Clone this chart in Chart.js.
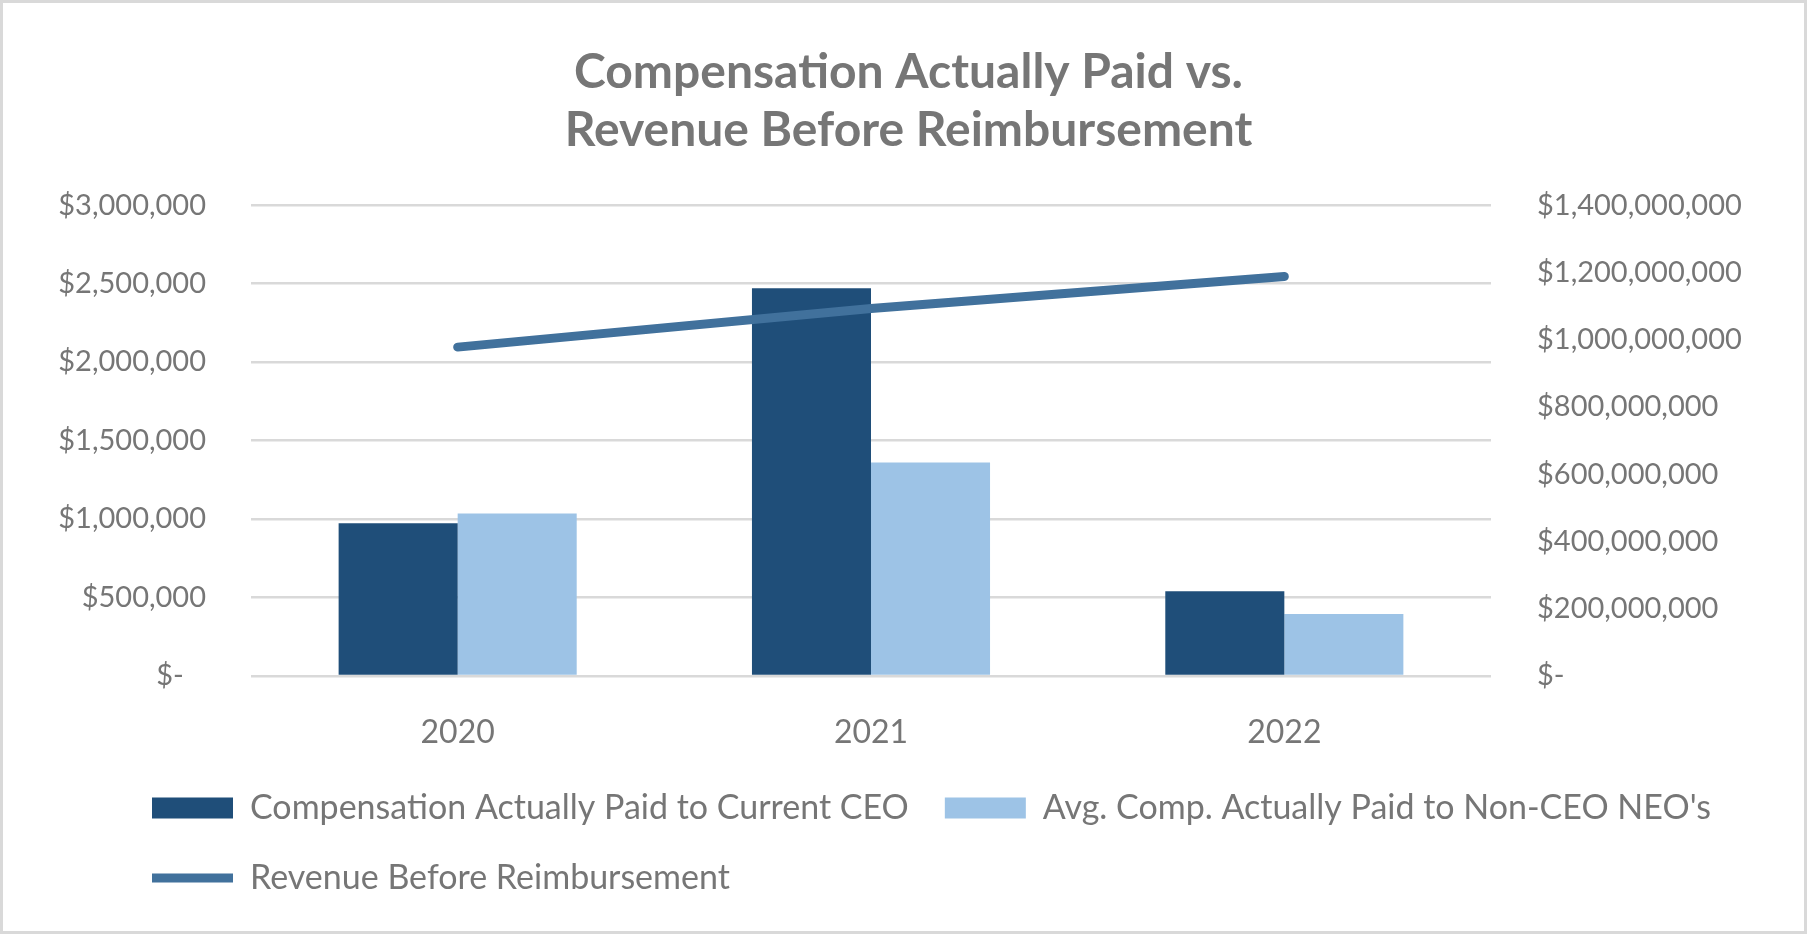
<!DOCTYPE html>
<html>
<head>
<meta charset="utf-8">
<title>Compensation Actually Paid vs. Revenue Before Reimbursement</title>
<script src="https://cdn.jsdelivr.net/npm/chart.js@4.4.1/dist/chart.umd.min.js"></script>
<style>
  html, body { margin: 0; padding: 0; background: #fff; }
  canvas { display: block; }
</style>
</head>
<body>
<canvas id="capChart" width="1807" height="934"></canvas>
<script>
// данные
const years = ['2020', '2021', '2022'];
const ceoPaid = [973000, 2470000, 540000];
const neoPaid = [1035000, 1360000, 395000];
const revenue = [978000000, 1093000000, 1188000000];
const seriesNames = [
  'Compensation Actually Paid to Current CEO',
  "Avg. Comp. Actually Paid to Non-CEO NEO's",
  'Revenue Before Reimbursement'
];
const titleLines = ['Compensation Actually Paid vs.', 'Revenue Before Reimbursement'];

const grey = '#767676';
const family = 'Lato, "Open Sans", sans-serif';

function money(v) {
  if (v === 0) return '$-';
  return '$' + v.toLocaleString('en-US');
}

// рамка вокруг картинки
const frame = {
  id: 'frame',
  beforeDraw(chart) {
    const {ctx, width, height} = chart;
    ctx.save();
    ctx.fillStyle = '#fff';
    ctx.fillRect(0, 0, width, height);
    ctx.strokeStyle = '#d9d9d9';
    ctx.lineWidth = 3;
    ctx.strokeRect(1.5, 1.5, width - 3, height - 3);
    ctx.restore();
  }
};

// легенда начинается левее графика, сдвигаем её вручную
const legendShift = {
  id: 'legendShift',
  afterLayout(chart) {
    chart.legend.left = 116;
  }
};

const ctx = document.getElementById('capChart');
const capChart = new Chart(ctx, {
  type: 'bar',
  data: {
    labels: years,
    datasets: [{
      label: seriesNames[0],
      data: ceoPaid,
      backgroundColor: '#1f4e79',
      borderWidth: 0,
      pointStyle: 'rect',
      yAxisID: 'y',
      order: 1,
      barPercentage: 1,
      categoryPercentage: 0.576
    }, {
      label: seriesNames[1],
      data: neoPaid,
      backgroundColor: '#9dc3e6',
      borderWidth: 0,
      pointStyle: 'rect',
      yAxisID: 'y',
      order: 1,
      barPercentage: 1,
      categoryPercentage: 0.576
    }, {
      type: 'line',
      label: seriesNames[2],
      data: revenue,
      borderColor: '#41719c',
      backgroundColor: '#41719c',
      borderWidth: 9,
      borderCapStyle: 'round',
      pointStyle: 'line',
      pointRadius: 0,
      pointHoverRadius: 0,
      tension: 0,
      fill: false,
      yAxisID: 'y1',
      order: 0
    }]
  },
  options: {
    responsive: false,
    animation: false,
    devicePixelRatio: 1,
    layout: {
      padding: { left: 20, right: 10, top: 0, bottom: 29 }
    },
    plugins: {
      title: {
        display: true,
        text: titleLines,
        color: grey,
        font: { family: family, size: 48, weight: 'bold', lineHeight: 1.2 },
        padding: { top: 44, bottom: 46 }
      },
      legend: {
        position: 'bottom',
        align: 'start',
        labels: {
          usePointStyle: true,
          pointStyleWidth: 81,
          boxHeight: 21,
          padding: 36,
          color: grey,
          font: { family: family, size: 34 },
          sort: (a, b) => a.datasetIndex - b.datasetIndex
        }
      },
      tooltip: { enabled: false }
    },
    scales: {
      x: {
        grid: { display: false },
        border: { display: false },
        ticks: {
          color: grey,
          font: { family: family, size: 32 },
          padding: 29
        },
        afterFit: (scale) => { scale.height = 79; }
      },
      y: {
        position: 'left',
        min: 0,
        max: 3000000,
        grid: { color: '#d9d9d9', lineWidth: 2.5, drawTicks: false },
        border: { display: false },
        ticks: {
          stepSize: 500000,
          color: grey,
          font: { family: family, size: 29 },
          padding: 45,
          callback: (v) => v === 0 ? '$-   ' : money(v)
        },
        afterFit: (scale) => { scale.width = 231; }
      },
      y1: {
        position: 'right',
        min: 0,
        max: 1400000000,
        grid: { display: false, drawTicks: false },
        border: { display: false },
        ticks: {
          stepSize: 200000000,
          color: grey,
          font: { family: family, size: 29 },
          padding: 46,
          callback: (v) => money(v)
        },
        afterFit: (scale) => { scale.width = 306; }
      }
    }
  },
  plugins: [frame, legendShift]
});
</script>
</body>
</html>
